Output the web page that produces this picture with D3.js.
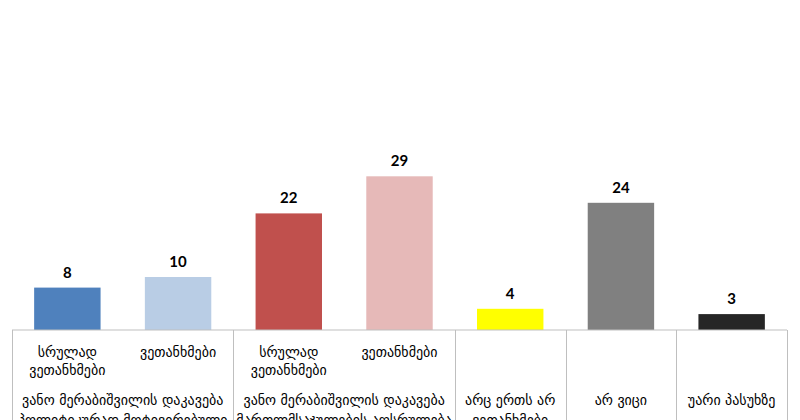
<!DOCTYPE html>
<html>
<head>
<meta charset="utf-8">
<script src="https://cdn.jsdelivr.net/npm/d3@7"></script>
<style>
  body { margin: 0; background: #fff; }
  .val { font-family: "Lato", "Open Sans", sans-serif; font-weight: bold; font-size: 15px; fill: #000; }
  .cat { font-family: "DejaVu Sans", sans-serif; font-size: 14px; fill: #000; }
</style>
</head>
<body>
<div id="chart"></div>
<script>
// bar values, one per column
var values = [8, 10, 22, 29, 4, 24, 3];
var colors = ["#4F81BD", "#B9CDE5", "#C0504D", "#E6B9B8", "#FFFF00", "#808080", "#262626"];
// lower labels of each column (inner row)
var subLabels = [
  ["სრულად", "ვეთანხმები"],
  ["ვეთანხმები"],
  ["სრულად", "ვეთანხმები"],
  ["ვეთანხმები"],
  [], [], []
];
// outer row: groups of columns
var groupStart = [0, 2, 4, 5, 6];
var groupEnd   = [1, 3, 4, 5, 6];
var groupLabels = [
  ["ვანო მერაბიშვილის დაკავება", "პოლიტიკურად მოტივირებული"],
  ["ვანო მერაბიშვილის დაკავება", "მართლმსაჯულების აღსრულება"],
  ["არც ერთს არ", "ვეთანხმები"],
  ["არ ვიცი"],
  ["უარი პასუხზე"]
];

var width = 800, height = 420;
var left = 12, right = 787, base = 330;

var svg = d3.select("#chart").append("svg")
  .attr("width", width)
  .attr("height", height);

var x = d3.scaleBand()
  .domain(d3.range(values.length))
  .range([left, right])
  .paddingInner(0.4)
  .paddingOuter(0.2);

var y = d3.scaleLinear()
  .domain([0, 35])
  .range([base, base - 35 * 5.3]);

// bars
svg.selectAll("rect.bar")
  .data(values)
  .enter().append("rect")
  .attr("class", "bar")
  .attr("x", function(d, i) { return x(i); })
  .attr("y", function(d) { return y(d); })
  .attr("width", x.bandwidth())
  .attr("height", function(d) { return y(0) - y(d); })
  .attr("fill", function(d, i) { return colors[i]; });

// value labels
svg.selectAll("text.val")
  .data(values)
  .enter().append("text")
  .attr("class", "val")
  .attr("text-anchor", "middle")
  .attr("x", function(d, i) { return x(i) + x.bandwidth() / 2; })
  .attr("y", function(d) { return y(d) - 10; })
  .text(function(d) { return d; });

// axis line
var axisColor = "#BFBFBF";
svg.append("line")
  .attr("x1", left).attr("x2", right)
  .attr("y1", base).attr("y2", base)
  .attr("stroke", axisColor);

// group separators
var step = x.step();
var edges = [left];
groupEnd.forEach(function(e) { edges.push(left + (e + 1) * step); });
svg.selectAll("line.sep")
  .data(edges)
  .enter().append("line")
  .attr("class", "sep")
  .attr("x1", function(d) { return Math.round(d) + 0.5; })
  .attr("x2", function(d) { return Math.round(d) + 0.5; })
  .attr("y1", base).attr("y2", height)
  .attr("stroke", axisColor);

// inner labels
subLabels.forEach(function(lines, i) {
  var cx = x(i) + x.bandwidth() / 2;
  lines.forEach(function(t, j) {
    svg.append("text")
      .attr("class", "cat")
      .attr("text-anchor", "middle")
      .attr("x", cx)
      .attr("y", 357 + j * 18)
      .text(t);
  });
});

// outer labels
groupLabels.forEach(function(lines, g) {
  var cx = left + (groupStart[g] + groupEnd[g] + 1) * step / 2;
  lines.forEach(function(t, j) {
    svg.append("text")
      .attr("class", "cat")
      .attr("text-anchor", "middle")
      .attr("x", cx)
      .attr("y", 405 + j * 20)
      .text(t);
  });
});
</script>
</body>
</html>
